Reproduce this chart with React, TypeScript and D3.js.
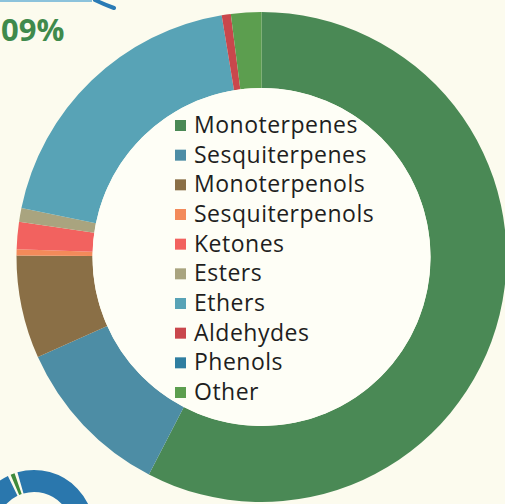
import React from "react";
import * as d3 from "d3";

const categories = [
  "Monoterpenes",
  "Sesquiterpenes",
  "Monoterpenols",
  "Sesquiterpenols",
  "Ketones",
  "Esters",
  "Ethers",
  "Aldehydes",
  "Phenols",
  "Other",
];
const values = [57.6, 10.7, 6.8, 0.4, 1.8, 0.9, 19.2, 0.6, 0, 2.0];
const colors = [
  "#4a8955",
  "#4d8da5",
  "#8a6f46",
  "#f38a5a",
  "#f2625f",
  "#a9a47f",
  "#58a3b6",
  "#c9474c",
  "#2f7ea0",
  "#5c9e4f",
];
const cornerLabel = "09%";

const W = 505;
const H = 504;
const cx = 261.5;
const cy = 257;
const rOuter = 245;
const rInner = 169;

export default function App() {
  const pie = d3
    .pie<number>()
    .sort(null)
    .value((d) => d)
    .startAngle(0)
    .endAngle(2 * Math.PI);
  const arcs = pie(values);
  const arc = d3.arc<d3.PieArcDatum<number>>().innerRadius(rInner).outerRadius(rOuter);

  const miniArc = d3.arc<any>().innerRadius(38).outerRadius(60);
  const legendY = d3
    .scaleLinear()
    .domain([0, categories.length - 1])
    .range([133, 400]);

  return (
    <svg
      width={W}
      height={H}
      style={{ position: "absolute", left: 0, top: 0, display: "block", background: "#fcfbee" }}
    >
      <rect x={0} y={0} width={W} height={H} fill="#fcfbee" />
      <g transform={`translate(${cx},${cy})`}>
        {arcs.map((a, i) => (
          <path key={categories[i]} d={arc(a) || ""} fill={colors[i]} />
        ))}
        <circle r={rInner} fill="#fefef6" />
      </g>
      {/* partial neighbour chart bottom-left */}
      <g transform="translate(34,530)">
        <path d={miniArc({ startAngle: -0.28, endAngle: 1.9 }) || ""} fill="#2a77ad" />
        <path d={miniArc({ startAngle: -0.4, endAngle: -0.33 }) || ""} fill="#3f8a3c" />
        <path d={miniArc({ startAngle: -1.4, endAngle: -0.45 }) || ""} fill="#2a77ad" />
      </g>
      {/* partial neighbour chart top-left */}
      <path d="M0,1 L92,1" stroke="#8cc3dc" strokeWidth={2} fill="none" />
      <path d="M95,0 Q103,4 114,8" stroke="#2a7bb5" strokeWidth={4} fill="none" strokeLinecap="round" />
      <text
        x={1}
        y={41}
        fontFamily="'Open Sans', sans-serif"
        fontWeight={700}
        fontSize={31}
        fill="#3f8a4c"
      >
        {cornerLabel}
      </text>
      <g fontFamily="'Open Sans', sans-serif" fontSize={23} letterSpacing={0.5} fill="#1e1e1e">
        {categories.map((c, i) => (
          <g key={c} transform={`translate(175,${legendY(i)})`}>
            <rect x={0} y={-13} width={11} height={11} fill={colors[i]} />
            <text x={19} y={0}>
              {c}
            </text>
          </g>
        ))}
      </g>
    </svg>
  );
}
